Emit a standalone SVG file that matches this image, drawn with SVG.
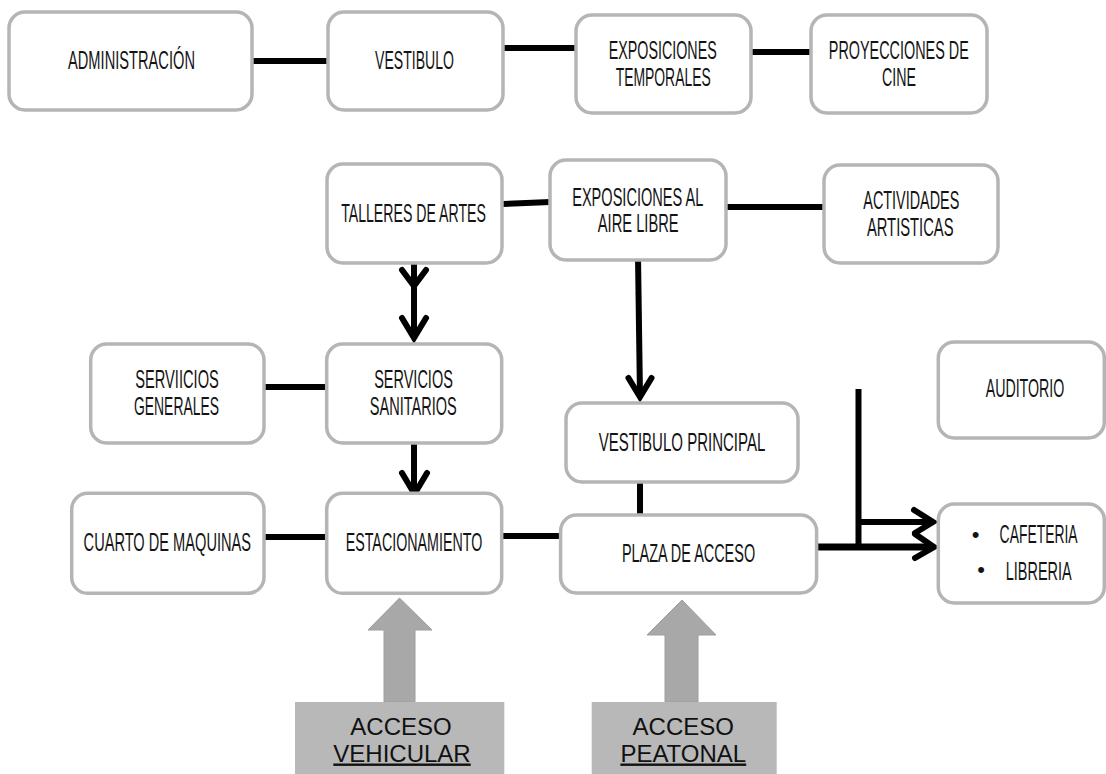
<svg xmlns="http://www.w3.org/2000/svg" width="1106" height="774" viewBox="0 0 1106 774">
<style>
.box{fill:#fff;stroke:#b5b5b5;stroke-width:3.5}
.t{font-family:"Liberation Sans",Arial,sans-serif;font-size:26px;fill:#141414;text-anchor:middle}
.b{font-family:"Liberation Sans",Arial,sans-serif;font-size:22px;fill:#141414;text-anchor:middle}
.a{font-family:"Liberation Sans",Arial,sans-serif;font-size:24px;fill:#111;text-anchor:middle}
.u{text-decoration:underline}
.ln{stroke:#000;stroke-width:6;fill:none}
.hd{stroke:#000;stroke-width:6;fill:none;stroke-linecap:round;stroke-linejoin:miter}
.blk{fill:#a8a8a8;stroke:#9e9e9e;stroke-width:1}
.acc{fill:#b8b8b8}
</style>
<g id="connectors">
<line class="ln" x1="252" y1="61" x2="328" y2="61"/>
<line class="ln" x1="503" y1="48" x2="576" y2="48"/>
<line class="ln" x1="751" y1="52" x2="812" y2="52"/>
<line class="ln" x1="502" y1="204" x2="550" y2="202"/>
<line class="ln" x1="726" y1="207" x2="824" y2="207"/>
<line class="ln" x1="414" y1="243" x2="414" y2="338"/>
<polyline class="hd" points="402,270 414,286 426,270"/>
<polyline class="hd" points="402,318 414,338 426,318"/>
<line class="ln" x1="638" y1="257" x2="640" y2="397"/>
<polyline class="hd" points="628.5,378 640,397 651.5,378"/>
<line class="ln" x1="264" y1="387" x2="327" y2="387"/>
<line class="ln" x1="414" y1="438" x2="414" y2="494"/>
<polyline class="hd" points="402,473 414.5,494 427,473"/>
<line class="ln" x1="264" y1="537" x2="327" y2="537"/>
<line class="ln" x1="502" y1="536" x2="561" y2="536"/>
<line class="ln" x1="640" y1="482" x2="640" y2="515"/>
<line class="ln" x1="858.5" y1="389" x2="858.5" y2="545"/>
<line class="ln" x1="858.5" y1="522" x2="932" y2="522"/>
<polyline class="hd" points="914,510 933,522 915,533"/>
<line class="ln" style="stroke-width:7" x1="817" y1="547" x2="932" y2="547"/>
<polyline class="hd" points="915,534 934,547 915,558"/>
<polygon class="blk" points="399.5,598 432,630 415,630 415,702 384,702 384,630 368,630"/>
<polygon class="blk" points="682,600 716,635 698,635 698,702 665,702 665,635 647,635"/>
</g>
<g id="n-administracion">
<rect class="box" x="9" y="12" width="243" height="98" rx="16"/>
<text class="t" transform="translate(131.5,69) scale(0.564,1)">ADMINISTRACIÓN</text>
</g>
<g id="n-vestibulo">
<rect class="box" x="328" y="12" width="175" height="98" rx="16"/>
<text class="t" transform="translate(414.5,69) scale(0.541,1)">VESTIBULO</text>
</g>
<g id="n-exposiciones-temporales">
<rect class="box" x="576" y="15" width="175" height="98" rx="16"/>
<text class="t" transform="translate(662.7,59) scale(0.55,1)">EXPOSICIONES</text>
<text class="t" transform="translate(663.2,85.5) scale(0.535,1)">TEMPORALES</text>
</g>
<g id="n-proyecciones">
<rect class="box" x="811" y="15" width="176" height="98" rx="16"/>
<text class="t" transform="translate(898.8,59) scale(0.554,1)">PROYECCIONES DE</text>
<text class="t" transform="translate(899,85.5) scale(0.548,1)">CINE</text>
</g>
<g id="n-talleres">
<rect class="box" x="327" y="164" width="175" height="99" rx="16"/>
<text class="t" transform="translate(413.5,221.5) scale(0.544,1)">TALLERES DE ARTES</text>
</g>
<g id="n-exposiciones-aire">
<rect class="box" x="550" y="160" width="176" height="100" rx="16"/>
<text class="t" transform="translate(637.7,205.5) scale(0.56,1)">EXPOSICIONES AL</text>
<text class="t" transform="translate(638.2,232) scale(0.566,1)">AIRE LIBRE</text>
</g>
<g id="n-actividades">
<rect class="box" x="824" y="165" width="174" height="98" rx="16"/>
<text class="t" transform="translate(911.3,209) scale(0.554,1)">ACTIVIDADES</text>
<text class="t" transform="translate(910.2,235.5) scale(0.568,1)">ARTISTICAS</text>
</g>
<g id="n-servicios-generales">
<rect class="box" x="90.7" y="344" width="173.3" height="99" rx="16"/>
<text class="t" transform="translate(177,388) scale(0.564,1)">SERVIICIOS</text>
<text class="t" transform="translate(176.5,415) scale(0.535,1)">GENERALES</text>
</g>
<g id="n-servicios-sanitarios">
<rect class="box" x="326.7" y="344" width="175" height="99" rx="16"/>
<text class="t" transform="translate(413.5,388) scale(0.558,1)">SERVICIOS</text>
<text class="t" transform="translate(413.3,415) scale(0.559,1)">SANITARIOS</text>
</g>
<g id="n-vestibulo-principal">
<rect class="box" x="566" y="403" width="232" height="79" rx="16"/>
<text class="t" transform="translate(682,450.7) scale(0.578,1)">VESTIBULO PRINCIPAL</text>
</g>
<g id="n-auditorio">
<rect class="box" x="938.3" y="342" width="166" height="96" rx="16"/>
<text class="t" transform="translate(1025,396.7) scale(0.547,1)">AUDITORIO</text>
</g>
<g id="n-cuarto-maquinas">
<rect class="box" x="71.7" y="493.3" width="192.3" height="100" rx="16"/>
<text class="t" transform="translate(167.3,550.7) scale(0.562,1)">CUARTO DE MAQUINAS</text>
</g>
<g id="n-estacionamiento">
<rect class="box" x="326.7" y="493.3" width="175" height="100" rx="16"/>
<text class="t" transform="translate(414,550.7) scale(0.549,1)">ESTACIONAMIENTO</text>
</g>
<g id="n-plaza-acceso">
<rect class="box" x="560.6" y="515" width="256" height="78" rx="16"/>
<text class="t" transform="translate(688.5,561.7) scale(0.556,1)">PLAZA DE ACCESO</text>
</g>
<g id="n-cafeteria-libreria">
<rect class="box" x="938.3" y="504" width="166" height="99" rx="16"/>
<text class="b" x="975.5" y="541.5">•</text>
<text class="t" transform="translate(1038.6,543.3) scale(0.535,1)">CAFETERIA</text>
<text class="b" x="981" y="577">•</text>
<text class="t" transform="translate(1038.7,580) scale(0.557,1)">LIBRERIA</text>
</g>
<g id="n-acceso-vehicular">
<rect class="acc" x="295" y="702" width="209.3" height="74"/>
<text class="a" x="401" y="734.5">ACCESO</text>
<text class="a u" x="402" y="761.5">VEHICULAR</text>
</g>
<g id="n-acceso-peatonal">
<rect class="acc" x="591.7" y="702" width="185" height="74"/>
<text class="a" x="683.3" y="734.5">ACCESO</text>
<text class="a u" x="683.3" y="761.5">PEATONAL</text>
</g>
</svg>
